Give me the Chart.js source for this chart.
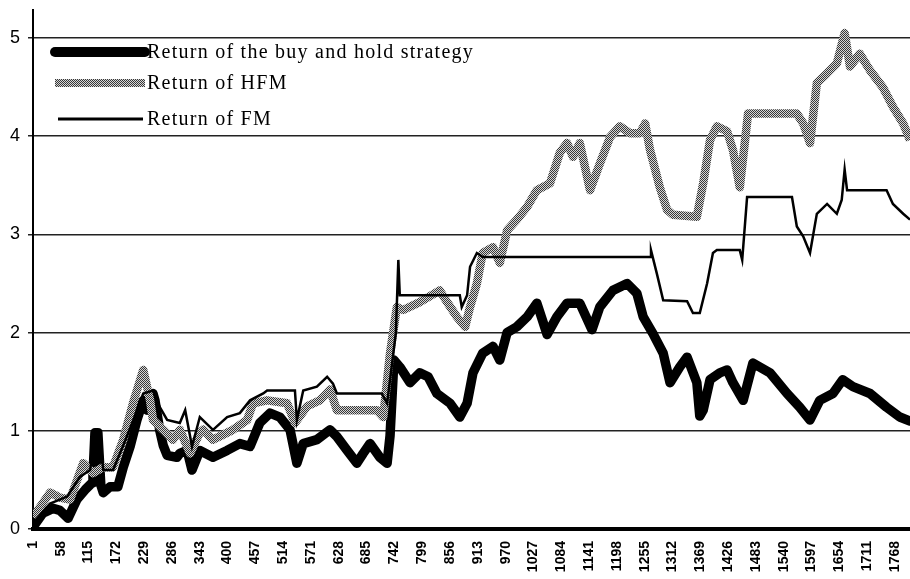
<!DOCTYPE html>
<html><head><meta charset="utf-8">
<script src="https://cdn.jsdelivr.net/npm/chart.js@4/dist/chart.umd.min.js"></script>
<style>html,body{margin:0;padding:0;background:#fff}#wrap{width:910px;height:579px}</style>
</head><body><div id="wrap"><canvas id="c" width="910" height="579"></canvas></div>
<script>
const seriesNames = ['Return of the buy and hold strategy', 'Return of HFM', 'Return of FM'];
const xTickLabels = [1,58,115,172,229,286,343,400,457,514,571,628,685,742,799,856,913,970,1027,1084,1141,1198,1255,1312,1369,1426,1483,1540,1597,1654,1711,1768];
const yTickLabels = [0,1,2,3,4,5];

const bhDays = [1,21,42,56,73,91,108,122,124,128,134,140,145,159,175,186,200,214,227,235,247,251,261,268,276,296,302,317,327,343,370,399,425,446,466,487,507,528,542,555,583,610,624,645,665,678,692,712,727,733,741,753,774,794,811,829,856,876,891,903,923,944,958,973,993,1014,1034,1055,1075,1096,1122,1147,1163,1190,1219,1239,1252,1272,1293,1307,1327,1342,1362,1368,1375,1389,1409,1424,1436,1457,1477,1512,1547,1573,1594,1614,1641,1661,1682,1717,1751,1778,1799];
const bhVals = [0.02,0.16,0.21,0.19,0.11,0.30,0.40,0.47,0.55,0.98,0.98,0.45,0.37,0.43,0.43,0.63,0.84,1.11,1.31,1.21,1.38,1.31,1.00,0.85,0.75,0.73,0.77,0.80,0.60,0.80,0.73,0.80,0.87,0.84,1.08,1.18,1.14,1.01,0.67,0.87,0.91,1.01,0.94,0.80,0.67,0.77,0.87,0.73,0.67,0.95,1.72,1.65,1.49,1.59,1.55,1.38,1.28,1.14,1.28,1.59,1.79,1.86,1.72,2.00,2.06,2.16,2.30,1.98,2.16,2.30,2.30,2.03,2.26,2.43,2.50,2.40,2.16,1.99,1.79,1.49,1.65,1.75,1.49,1.15,1.21,1.52,1.59,1.62,1.49,1.31,1.69,1.59,1.38,1.24,1.11,1.31,1.38,1.52,1.45,1.38,1.24,1.14,1.10];

const hfmDays = [1,15,36,56,77,104,124,145,165,186,206,227,241,247,268,288,302,323,343,350,370,411,440,452,481,522,538,563,589,610,624,651,706,719,733,747,760,794,835,850,870,887,897,911,923,944,958,973,993,1014,1034,1061,1081,1096,1108,1122,1143,1163,1184,1204,1225,1245,1256,1266,1286,1301,1313,1362,1375,1389,1403,1424,1436,1450,1467,1491,1567,1580,1594,1608,1629,1649,1665,1676,1696,1717,1743,1764,1785,1799];
const hfmVals = [0.12,0.22,0.37,0.32,0.30,0.67,0.57,0.63,0.63,0.91,1.28,1.62,1.31,1.11,1.01,0.91,1.01,0.77,0.98,1.01,0.91,1.01,1.11,1.28,1.31,1.28,1.08,1.25,1.31,1.42,1.21,1.21,1.21,1.14,1.79,2.26,2.23,2.31,2.43,2.31,2.16,2.06,2.26,2.50,2.81,2.87,2.71,3.04,3.15,3.28,3.45,3.52,3.83,3.93,3.79,3.93,3.45,3.72,3.99,4.10,4.03,4.03,4.13,3.86,3.48,3.25,3.20,3.18,3.52,3.96,4.10,4.05,3.86,3.48,4.23,4.23,4.23,4.13,3.93,4.54,4.64,4.74,5.05,4.71,4.84,4.67,4.50,4.30,4.13,3.96];

const fmDays = [1,36,71,97,118,130,138,145,165,186,206,227,247,261,276,302,313,327,343,370,399,425,446,473,481,538,542,555,583,604,616,624,716,727,745,750,753,876,880,891,897,911,923,1266,1268,1280,1293,1342,1354,1368,1383,1395,1403,1450,1455,1465,1557,1567,1580,1594,1608,1629,1649,1659,1665,1670,1751,1764,1785,1799];
const fmVals = [0.06,0.26,0.33,0.53,0.60,0.98,0.98,0.60,0.60,0.85,1.10,1.38,1.41,1.24,1.11,1.08,1.21,0.84,1.14,1.01,1.14,1.18,1.31,1.38,1.41,1.41,1.11,1.41,1.45,1.55,1.48,1.38,1.38,1.28,2.00,2.74,2.38,2.38,2.26,2.38,2.67,2.81,2.77,2.77,2.84,2.60,2.33,2.32,2.20,2.20,2.50,2.81,2.84,2.84,2.74,3.38,3.38,3.08,2.98,2.81,3.21,3.31,3.21,3.35,3.66,3.45,3.45,3.31,3.21,3.15];

function pts(days, vals){ return days.map((d,i)=>({x:d, y:vals[i]})); }

// dithered gray pattern for the HFM line
const pc = document.createElement('canvas'); pc.width = 2; pc.height = 2;
const pctx = pc.getContext('2d');
pctx.fillStyle = '#d6d6d6'; pctx.fillRect(0,0,2,2);
pctx.fillStyle = '#383838'; pctx.fillRect(0,0,1,1); pctx.fillRect(1,1,1,1);
const ctx = document.getElementById('c').getContext('2d');
const grayPattern = ctx.createPattern(pc, 'repeat');

const legendRows = [
  {ds:0, y:52, x0:55, x1:145, w:10, cap:'round'},
  {ds:1, y:83, x0:55, x1:145, w:8, cap:'butt'},
  {ds:2, y:119, x0:58, x1:143, w:3, cap:'butt'}
];
const inLegend = {
  id:'inLegend',
  afterDraw(chart){
    const c = chart.ctx; c.save();
    legendRows.forEach(r=>{
      const ds = chart.data.datasets[r.ds];
      c.beginPath(); c.moveTo(r.x0, r.y); c.lineTo(r.x1, r.y);
      c.lineWidth = r.w; c.lineCap = r.cap; c.strokeStyle = ds.borderColor; c.stroke();
      c.font = '20px "Liberation Serif"'; c.fillStyle = '#000'; c.textBaseline = 'middle'; c.textAlign = 'left';
      c.letterSpacing = '1.25px';
      c.fillText(ds.label, 147, r.y + 1);
      c.letterSpacing = '0px';
    });
    c.restore();
  }
};

new Chart(ctx, {
  type:'line',
  data:{datasets:[
    {label:seriesNames[0], data:pts(bhDays,bhVals), borderColor:'#000', borderWidth:9.5, pointRadius:0, order:3, borderJoinStyle:'round', borderCapStyle:'round', tension:0},
    {label:seriesNames[1], data:pts(hfmDays,hfmVals), borderColor:grayPattern, borderWidth:8.5, pointRadius:0, order:2, borderJoinStyle:'round', tension:0},
    {label:seriesNames[2], data:pts(fmDays,fmVals), borderColor:'#000', borderWidth:2.5, pointRadius:0, order:1, borderJoinStyle:'miter', tension:0}
  ]},
  options:{
    responsive:false, animation:false, devicePixelRatio:1,
    layout:{padding:{top:10,left:0,right:0,bottom:0}},
    plugins:{legend:{display:false}, tooltip:{enabled:false}},
    scales:{
      x:{type:'linear', min:1, max:1799,
        afterBuildTicks:s=>{ s.ticks = xTickLabels.map(v=>({value:v})); },
        afterFit:s=>{ s.height = 50; s.paddingLeft = 0; s.paddingRight = 0; },
        ticks:{autoSkip:false, maxRotation:90, minRotation:90, padding:12, color:'#000',
          font:{family:'"Liberation Sans"', size:14, weight:'bold'}, callback:v=>String(v)},
        grid:{display:false, drawTicks:false},
        border:{display:true, color:'#000', width:4}
      },
      y:{type:'linear', min:0, max:5.285,
        afterBuildTicks:s=>{ s.ticks = yTickLabels.map(v=>({value:v})); },
        afterFit:s=>{ s.width = 33; s.paddingTop = 0; s.paddingBottom = 0; },
        ticks:{padding:8, color:'#000', font:{family:'"Liberation Sans"', size:18}, callback:v=>String(v)},
        grid:{color:'#222', lineWidth:1.5, tickLength:5, drawTicks:true},
        border:{display:true, color:'#000', width:2}
      }
    }
  },
  plugins:[inLegend]
});
</script></body></html>
